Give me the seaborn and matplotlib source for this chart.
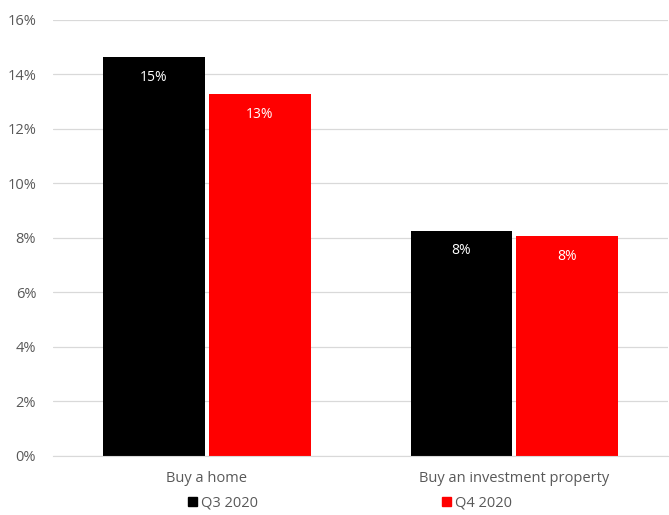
import matplotlib
matplotlib.use("Agg")
import matplotlib.pyplot as plt
import seaborn as sns
import pandas as pd
from matplotlib.patches import Patch

# values (percent)
categories = ["Buy a home", "Buy an investment property"]
quarters = ["Q3 2020", "Q4 2020"]
q3_values = [14.65, 8.27]
q4_values = [13.28, 8.08]
colors = ["#000000", "#ff0000"]

df = pd.DataFrame({
    "category": categories * 2,
    "quarter": [quarters[0]] * 2 + [quarters[1]] * 2,
    "value": q3_values + q4_values,
})

sns.set_style("white")
plt.rcParams["font.family"] = ["Open Sans", "DejaVu Sans"]

fig = plt.figure(figsize=(6.69, 5.15), dpi=100)
ax = fig.add_axes([0.079, 0.1146, 0.92, 0.8466])

sns.barplot(data=df, x="category", y="value", hue="quarter",
            palette=colors, width=0.688, gap=0.038, ax=ax, legend=False,
            saturation=1, linewidth=0)

for cont in ax.containers:
    ax.bar_label(cont, labels=[f"{v:.0f}%" for v in cont.datavalues],
                 padding=-20, color="white", fontsize=10)

ax.set_ylim(0, 16)
ax.set_xlim(-0.5, 1.5)
ax.set_yticks(range(0, 17, 2))
ax.set_yticklabels([f"{t}%" for t in range(0, 17, 2)])
ax.yaxis.grid(True, color="#d9d9d9", linewidth=0.9)
ax.set_axisbelow(True)
ax.tick_params(axis="both", colors="#595959", labelsize=10.5, length=0)
ax.tick_params(axis="x", pad=11)
ax.tick_params(axis="y", pad=12)
ax.set_xlabel("")
ax.set_ylabel("")
for side in ["top", "right", "left"]:
    ax.spines[side].set_visible(False)
ax.spines["bottom"].set_color("#d9d9d9")

handles = [Patch(color=c, label=q) for c, q in zip(colors, quarters)]
fig.legend(handles=handles, loc="lower center", bbox_to_anchor=(0.523, -0.017),
           ncol=2, frameon=False, fontsize=10.5, handlelength=0.6,
           handleheight=0.6, handletextpad=0.3, columnspacing=12.6,
           labelcolor="#595959")

fig.savefig("out.png", dpi=100)
